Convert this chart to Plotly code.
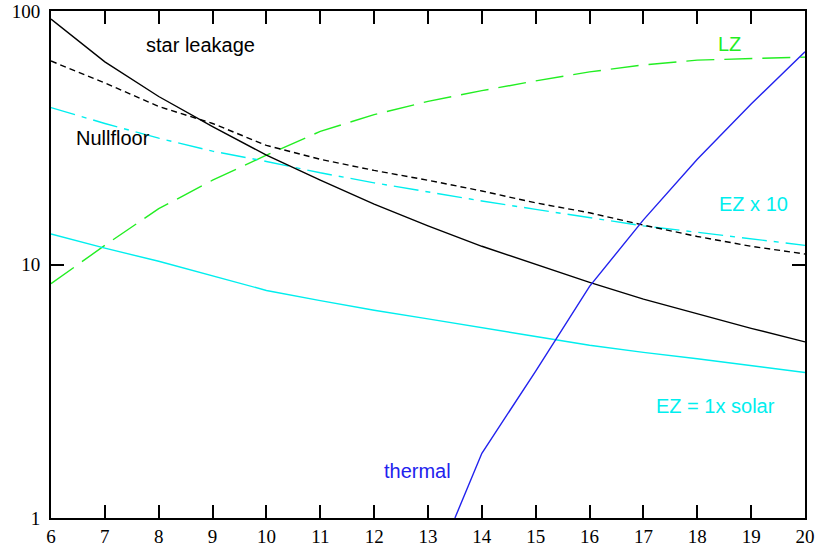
import plotly.graph_objects as go

# ---- data ----
x_int = [6, 7, 8, 9, 10, 11, 12, 13, 14, 15, 16, 17, 18, 19, 20]
star_leakage = [93, 63, 46, 35, 27, 21.5, 17.3, 14.2, 11.8, 10.0, 8.5, 7.3, 6.4, 5.6, 4.95]
nullfloor = [63.5, 52, 42, 36, 29.5, 26, 23.5, 21.5, 19.5, 17.5, 16, 14.3, 12.9, 11.8, 11.0]
ez_x10 = [41.6, 36, 31.5, 28, 25.5, 23, 21, 19.3, 17.8, 16.5, 15.3, 14.2, 13.4, 12.6, 11.9]
ez_solar = [13.2, 11.6, 10.3, 9.0, 7.9, 7.2, 6.6, 6.1, 5.65, 5.2, 4.8, 4.5, 4.25, 4.0, 3.75]
lz = [8.4, 11.9, 16.6, 21.5, 27, 33.5, 39, 44, 48.5, 53, 57.5, 61.3, 64, 65, 65.8]
x_thermal = [13.5, 14, 15, 16, 17, 18, 19, 20]
thermal = [1.0, 1.8, 3.8, 8.2, 15.0, 26, 43, 69]

x_ticks = list(range(6, 21))
y_ticks = [1, 10, 100]
y_ticklabels = ["1", "10", "100"]

fig = go.Figure()

def add(x, y, color, dash, name):
    fig.add_trace(go.Scatter(x=x, y=y, mode="lines", name=name,
                             line=dict(color=color, width=1.4, dash=dash),
                             showlegend=False, hoverinfo="skip"))

add(x_int, lz, "#22ee22", "28px,10px", "LZ")
add(x_int, ez_x10, "#00eeee", "25px,7px,5px,7px", "EZ x 10")
add(x_int, ez_solar, "#00eeee", "solid", "EZ = 1x solar")
add(x_int, nullfloor, "black", "6px,4px", "Nullfloor")
add(x_int, star_leakage, "black", "solid", "star leakage")
add(x_thermal, thermal, "#2222ee", "solid", "thermal")

label_font = dict(family="Liberation Sans, Arial, sans-serif", size=20)
annots = [
    ("star leakage", 8.77, 1.866, "black"),
    ("Nullfloor", 7.15, 1.499, "black"),
    ("LZ", 18.59, 1.870, "#22ee22"),
    ("EZ x 10", 19.05, 1.239, "#00eeee"),
    ("EZ = 1x solar", 18.33, 0.442, "#00eeee"),
    ("thermal", 12.81, 0.185, "#2222ee"),
]
for text, ax_, ay_, col in annots:
    fig.add_annotation(x=ax_, y=ay_, xref="x", yref="y", text=text, showarrow=False,
                       font=dict(color=col, **label_font), xanchor="center", yanchor="middle")

tick_font = dict(family="Liberation Serif, serif", size=19, color="black")
fig.update_xaxes(range=[6, 20], tickvals=x_ticks, ticktext=[str(v) for v in x_ticks],
                 ticks="inside", ticklen=13, tickwidth=1.5, tickcolor="black",
                 showline=True, linecolor="black", linewidth=2, mirror="ticks",
                 showgrid=False, zeroline=False, tickfont=tick_font, automargin=False)
fig.update_yaxes(type="log", range=[0, 2], tickvals=y_ticks, ticktext=y_ticklabels,
                 ticks="inside", ticklen=13, tickwidth=1.5, tickcolor="black",
                 showline=True, linecolor="black", linewidth=2, mirror="ticks",
                 showgrid=False, zeroline=False, tickfont=tick_font, automargin=False,
                 ticklabelstandoff=5)
fig.update_layout(width=815, height=548, margin=dict(l=51, r=10, t=11, b=30),
                  plot_bgcolor="white", paper_bgcolor="white")

fig.write_html("out.html")
